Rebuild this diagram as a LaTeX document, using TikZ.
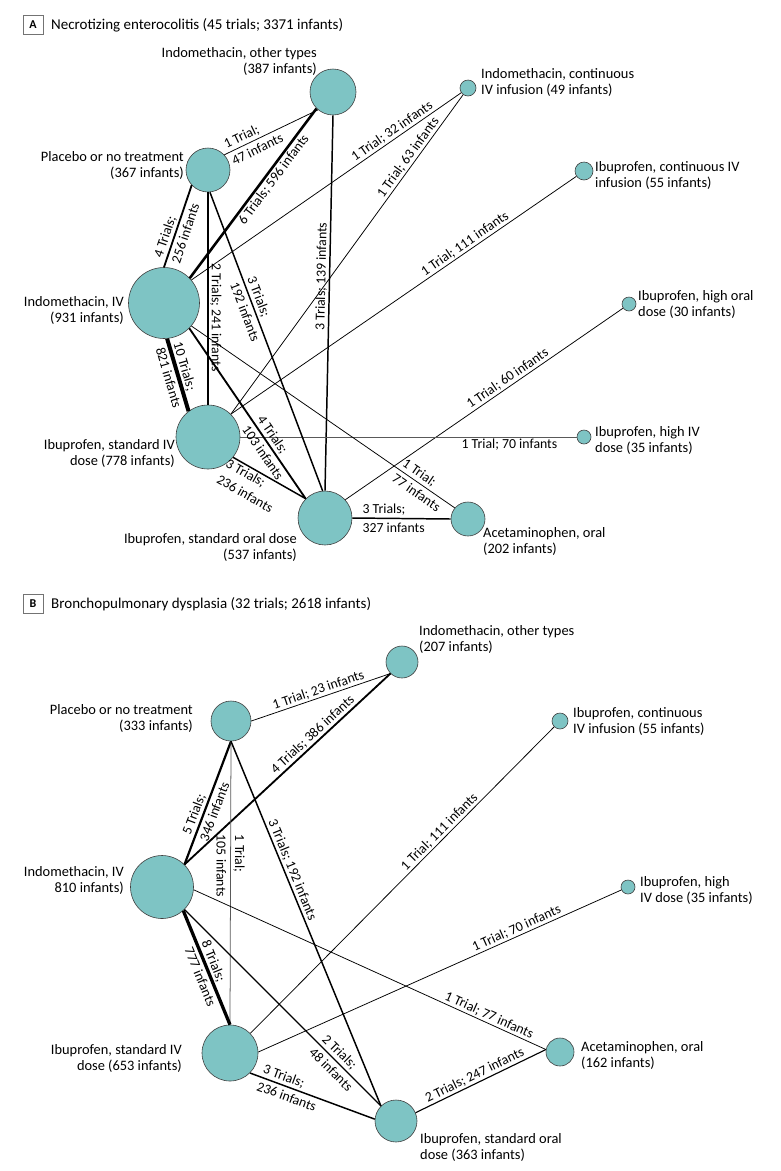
\documentclass[tikz,border=0pt]{standalone}
\usepackage{fontspec}
\setmainfont{Carlito}
\definecolor{nmateal}{RGB}{126,196,196}
\begin{document}
\begin{tikzpicture}[%
    x=1pt,y=-1pt,%
    drug/.style={circle,draw=black!75,line width=0.6pt,fill=nmateal,inner sep=0pt,minimum size=#1},%
    tname/.style={inner sep=0pt,font=\fontsize{14.4}{16}\selectfont},%
    tr/.style={line width={0.4pt+0.36pt*#1}},%
    elbl/.style={inner sep=1.5pt,align=left,font=\fontsize{13.8}{18.5}\selectfont},%
    along/.style={elbl,sloped},%
    vlbl/.style={elbl,rotate=-90},%
    panel/.style={draw=black!55,line width=0.8pt,minimum width=20pt,minimum height=19pt,inner sep=0pt,font=\fontsize{12}{12}\selectfont\bfseries},%
    ptitle/.style={anchor=west,inner sep=0pt,font=\fontsize{15}{18}\selectfont},%
]
    \useasboundingbox (0,0) rectangle (780,1171);

    % panel A: necrotizing enterocolitis
    \node[panel] (pA) at (33,24.5) {A};
    \node[ptitle] (tA) at (51,25) {Necrotizing enterocolitis (45 trials; 3371 infants)};

    \node[drug=46pt] (ioA) at (333,92) {};
    \node[drug=44pt] (plA) at (208,170) {};
    \node[drug=16pt] (icA) at (468,88) {};
    \node[drug=18pt] (bcA) at (584,171) {};
    \node[drug=14pt] (hoA) at (629,304) {};
    \node[drug=71pt] (ivA) at (164,303) {};
    \node[drug=64pt] (siA) at (208,437) {};
    \node[drug=54pt] (soA) at (325,518) {};
    \node[drug=34pt] (acA) at (468,519) {};
    \node[drug=14pt] (hiA) at (584,437) {};

    \node[tname,anchor=east,align=right] (ioAt) at (317,61) {Indomethacin, other types\\(387 infants)};
    \node[tname,anchor=east,align=right] (plAt) at (184,165) {Placebo or no treatment\\(367 infants)};
    \node[tname,anchor=west,align=left] (icAt) at (481,82) {Indomethacin, continuous\\IV infusion (49 infants)};
    \node[tname,anchor=west,align=left] (bcAt) at (595,175) {Ibuprofen, continuous IV\\infusion (55 infants)};
    \node[tname,anchor=west,align=left] (hoAt) at (638,304) {Ibuprofen, high oral\\dose (30 infants)};
    \node[tname,anchor=east,align=right] (ivAt) at (124,310) {Indomethacin, IV\\(931 infants)};
    \node[tname,anchor=east,align=right] (siAt) at (175,453) {Ibuprofen, standard IV\\dose (778 infants)};
    \node[tname,anchor=east,align=right] (soAt) at (297,547) {Ibuprofen, standard oral dose\\(537 infants)};
    \node[tname,anchor=west,align=left] (acAt) at (483,541) {Acetaminophen, oral\\(202 infants)};
    \node[tname,anchor=west,align=left] (hiAt) at (595,440) {Ibuprofen, high IV\\dose (35 infants)};

    % comparisons A
    \draw[tr=1] (plA.43) -- node[along,pos=0.31] (eA1) {1 Trial;\\47 infants} (ioA.-130);
    \draw[tr=6] (ivA.44) -- node[along,below,pos=0.61] (eA2) {6 Trials; 596 infants} (ioA.-135);
    \draw[tr=1] (ivA.40) -- node[along,above,pos=0.76] (eA3) {1 Trial; 32 infants} (icA.-145);
    \draw[tr=1] (siA.45) -- node[along,above,pos=0.79] (eA4) {1 Trial; 63 infants} (icA.-126);
    \draw[tr=3] (soA.90) -- node[along,above,pos=0.57] (eA5) {3 Trials; 139 infants} (ioA.-90);
    \draw[tr=1] (siA.45) -- node[along,above,pos=0.69] (eA6) {1 Trial; 111 infants} (bcA.-145);
    \draw[tr=1] (soA.42) -- node[along,above,pos=0.6] (eA7) {1 Trial; 60 infants} (hoA.-145);
    \draw[tr=1,draw=black!65] (siA.0) -- node[elbl,below,pos=0.8] (eA8) {1 Trial; 70 infants} (hiA.180);
    \draw[tr=4] (plA.-137) -- node[along,pos=0.55] (eA9) {4 Trials;\\256 infants} (ivA.90);
    \draw[tr=2] (plA.-90) -- node[vlbl,above,pos=0.59] (eA10) {2 Trials; 241 infants} (siA.90);
    \draw[tr=3] (plA.-85) -- node[along,pos=0.39] (eA11) {3 Trials;\\192 infants} (soA.95);
    \draw[tr=10] (ivA.-85) -- node[along,pos=0.5] (eA12) {10 Trials;\\821 infants} (siA.127);
    \draw[tr=4] (ivA.-45) -- node[along,pos=0.7] (eA13) {4 Trials;\\103 infants} (soA.135);
    \draw[tr=1] (ivA.-40) -- node[along,pos=0.875] (eA14) {1 Trial;\\77 infants} (acA.140);
    \draw[tr=3] (siA.-39) -- node[along,below,pos=0.34] (eA15) {3 Trials;\\236 infants} (soA.135);
    \draw[tr=3] (soA.0) -- node[elbl,pos=0.42] (eA16) {3 Trials;\\327 infants} (acA.180);

    % panel B: bronchopulmonary dysplasia
    \node[panel] (pB) at (33,604) {B};
    \node[ptitle] (tB) at (51,604) {Bronchopulmonary dysplasia (32 trials; 2618 infants)};

    \node[drug=32pt] (ioB) at (402,662) {};
    \node[drug=40pt] (plB) at (231,721) {};
    \node[drug=16pt] (bcB) at (560,721) {};
    \node[drug=14pt] (hiB) at (628,887) {};
    \node[drug=63pt] (ivB) at (162,887) {};
    \node[drug=56pt] (siB) at (230,1053) {};
    \node[drug=42pt] (soB) at (396,1121) {};
    \node[drug=28pt] (acB) at (560,1052) {};

    \node[tname,anchor=west,align=left] (ioBt) at (419,639) {Indomethacin, other types\\(207 infants)};
    \node[tname,anchor=east,align=right] (plBt) at (193,718) {Placebo or no treatment\\(333 infants)};
    \node[tname,anchor=west,align=left] (bcBt) at (573,721) {Ibuprofen, continuous\\IV infusion (55 infants)};
    \node[tname,anchor=east,align=right] (ivBt) at (124,880) {Indomethacin, IV\\810 infants)};
    \node[tname,anchor=west,align=left] (hiBt) at (640,890) {Ibuprofen, high\\IV dose (35 infants)};
    \node[tname,anchor=east,align=right] (siBt) at (182,1058) {Ibuprofen, standard IV\\dose (653 infants)};
    \node[tname,anchor=west,align=left] (acBt) at (581,1055) {Acetaminophen, oral\\(162 infants)};
    \node[tname,anchor=west,align=left] (soBt) at (420,1147) {Ibuprofen, standard oral\\dose (363 infants)};

    % comparisons B
    \draw[tr=1] (plB.0) -- node[along,above,pos=0.5] (eB1) {1 Trial; 23 infants} (ioB.-135);
    \draw[tr=4] (ivB.45) -- node[along,above,pos=0.65] (eB2) {4 Trials; 386 infants} (ioB.-135);
    \draw[tr=5] (plB.-90) -- node[along,pos=0.545] (eB3) {5 Trials;\\346 infants} (ivB.45);
    \draw[tr=1,draw=black!65] (plB.-90) -- node[vlbl,pos=0.44] (eB4) {1 Trial;\\105 infants} (siB.90);
    \draw[tr=3] (plB.-90) -- node[along,above,pos=0.36] (eB5) {3 Trials; 192 infants} (soB.135);
    \draw[tr=8] (ivB.-48) -- node[along,pos=0.55] (eB6) {8 Trials;\\777 infants} (siB.90);
    \draw[tr=2] (ivB.-45) -- node[along,pos=0.78] (eB7) {2 Trials;\\48 infants} (soB.135);
    \draw[tr=1] (ivB.-5) -- node[along,above,pos=0.83] (eB8) {1 Trial; 77 infants} (acB.170);
    \draw[tr=1] (siB.44) -- node[along,above,pos=0.64] (eB9) {1 Trial; 111 infants} (bcB.-135);
    \draw[tr=1] (siB.2) -- node[along,above,pos=0.72] (eB10) {1 Trial; 70 infants} (hiB.-156);
    \draw[tr=3] (siB.-45) -- node[along,pos=0.32] (eB11) {3 Trials;\\236 infants} (soB.175);
    \draw[tr=2] (soB.23) -- node[along,above,pos=0.48] (eB12) {2 Trials; 247 infants} (acB.170);
\end{tikzpicture}
\end{document}
